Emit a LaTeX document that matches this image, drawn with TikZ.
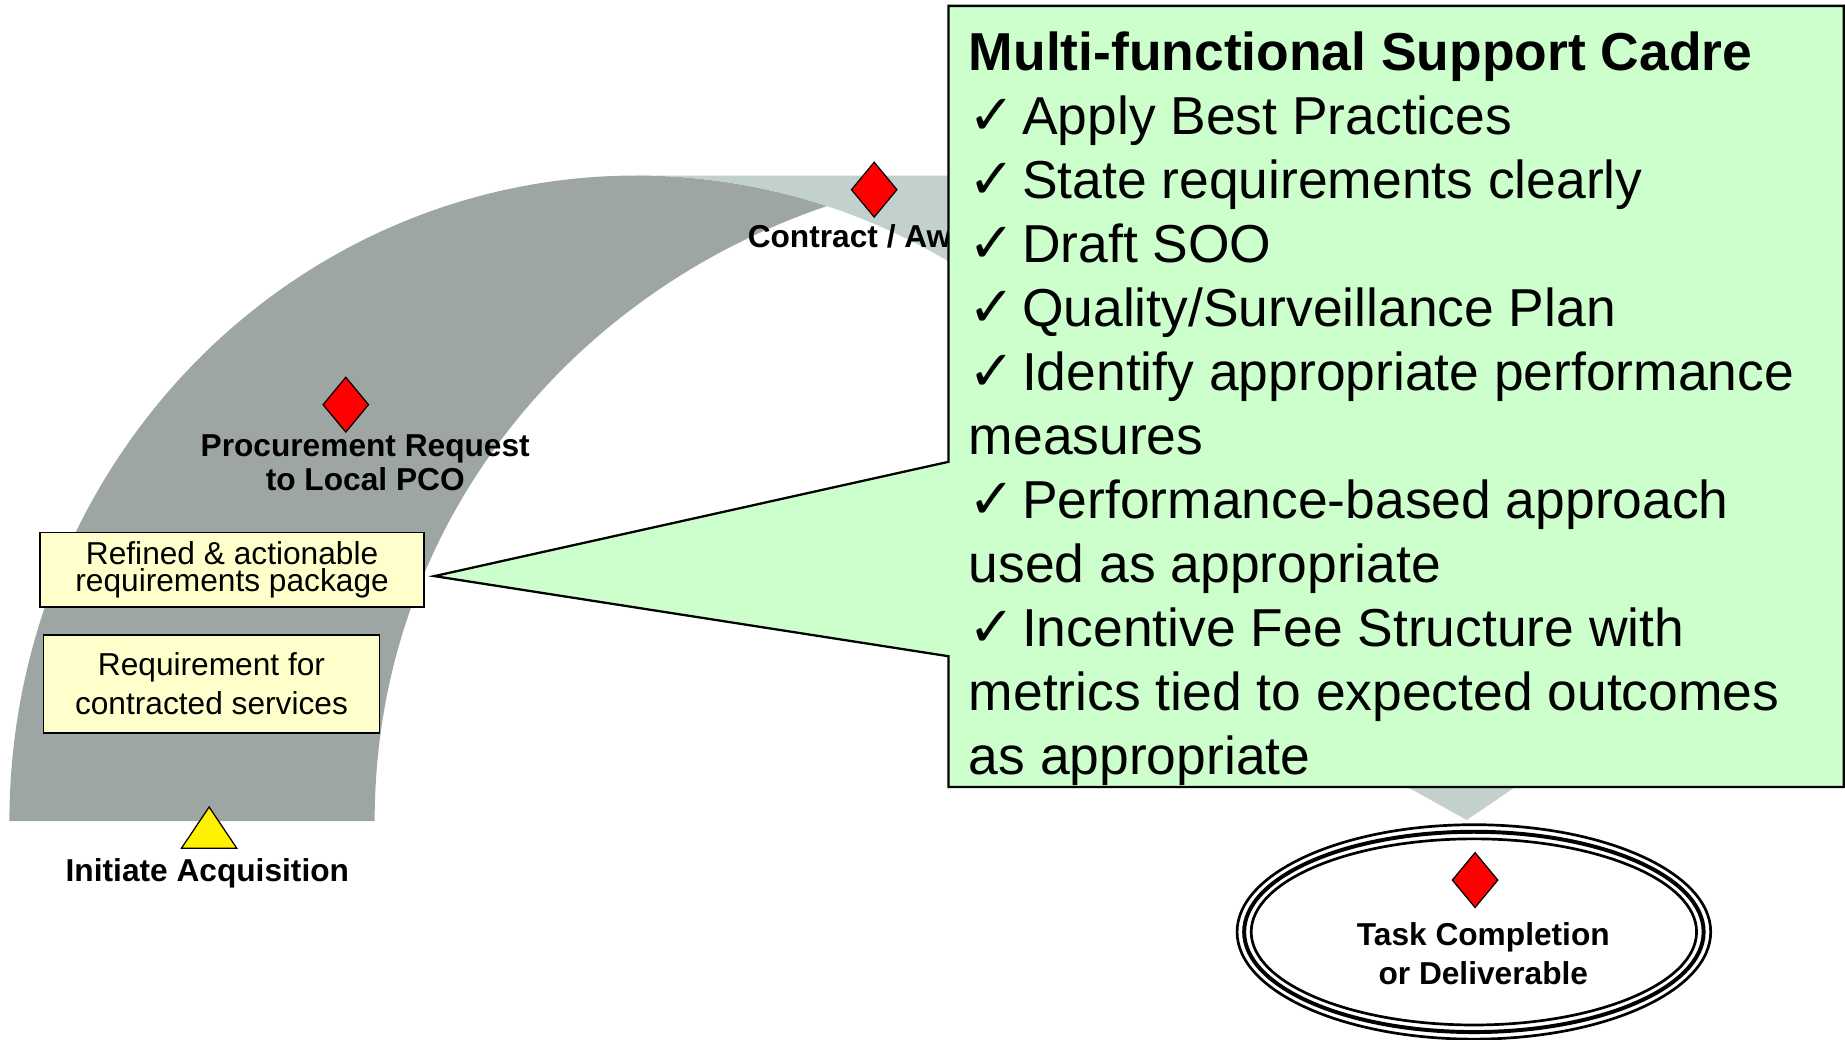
\documentclass[tikz,border=0pt]{standalone}
\usepackage{fontspec}
\setmainfont{Liberation Sans}
\newfontfamily\checkfont{DejaVu Sans}
\usetikzlibrary{shapes.geometric, positioning}
\definecolor{bandgray}{RGB}{158,166,163}
\definecolor{bandlight}{RGB}{194,209,205}
\definecolor{cadregreen}{RGB}{204,255,204}
\definecolor{notecream}{RGB}{255,255,204}
\newcommand{\cadretick}{{\checkfont\fontsize{27}{27}\selectfont ✓}\hspace{0.12em}}
\tikzset{
  milestone/.style={draw, fill=red, diamond, minimum width=0.78cm, minimum height=0.94cm, inner sep=0pt, line width=0.6pt},
  stagelabel/.style={font=\bfseries\fontsize{15.3}{16.4}\selectfont, align=center, inner sep=0pt},
  notebox/.style={draw, fill=notecream, line width=0.8pt, align=center, inner sep=0pt}
}

\begin{document}
\begin{tikzpicture}
      \useasboundingbox (0,0) rectangle (31.32,17.64);
      % light band running on to the deliverable
      \fill[bandlight] (10.8,14.66) -- (26,14.66) -- (25.78,4.32) -- (24.9,3.72) -- (23.82,4.32)
        -- (16.9,12.68) arc[start angle=55, end angle=90, x radius=10.64, y radius=10.96] -- cycle;
      % dark arc
      \fill[bandgray] (0.16,3.70) arc[start angle=180, end angle=72.3, x radius=10.64, y radius=10.96]
        .. controls (9.6,12.64) and (6.36,8.64) .. (6.36,3.70) -- cycle;
      % milestones on the arc
      \node[milestone] (pr) at (5.87,10.77) {};
      \node[stagelabel] (prtext) at (6.2,9.79) {Procurement Request\\to Local PCO};
      \node[milestone] (award) at (14.84,14.42) {};
      \node[stagelabel] (awardtext) at (14.84,13.62) {Contract / Award};
      % requirement boxes
      \node[notebox, minimum width=6.52cm, minimum height=1.26cm, font=\fontsize{15.3}{13.2}\selectfont] (pkg) at (3.94,7.97) {Refined \& actionable\\requirements package};
      \node[notebox, minimum width=5.7cm, minimum height=1.66cm, font=\fontsize{15.3}{18.8}\selectfont] (req) at (3.59,6.03) {Requirement for\\contracted services};
      % callout with the pointer on the package box
      \coordinate (tip) at ([xshift=0.16cm, yshift=-0.11cm] pkg.east);
      \draw[fill=cadregreen, line width=1.1pt] (16.1,17.54) -- (31.3,17.54) -- (31.3,4.28) -- (16.1,4.28)
        -- (16.1,6.5) -- (tip) -- (16.1,9.8) -- cycle;
      \node[anchor=north west, align=left, inner sep=0pt, font=\fontsize{25.8}{30.9}\selectfont] (cadre) at (16.44,17.1) {%
        \textbf{Multi-functional Support Cadre}\\
        \cadretick Apply Best Practices\\
        \cadretick State requirements clearly\\
        \cadretick Draft SOO\\
        \cadretick Quality/Surveillance Plan\\
        \cadretick Identify appropriate performance\\
        measures\\
        \cadretick Performance-based approach\\
        used as appropriate\\
        \cadretick Incentive Fee Structure with\\
        metrics tied to expected outcomes\\
        as appropriate};
      % start of the acquisition
      \coordinate (start) at (3.55,3.94);
      \draw[fill=yellow, line width=0.6pt] (start) -- (4.02,3.24) -- (3.08,3.24) -- cycle;
      \node[stagelabel] (starttext) at (3.52,2.82) {Initiate Acquisition};
      % deliverable, triple ring
      \node[draw, ellipse, fill=white, line width=1.3pt, minimum width=8.04cm, minimum height=3.64cm] (done) at (25.02,1.82) {};
      \draw[line width=1.9pt] (done.center) ellipse [x radius=3.9, y radius=1.7];
      \draw[line width=1.3pt] (done.center) ellipse [x radius=3.78, y radius=1.58];
      \node[milestone] (task) at (25.04,2.7) {};
      \node[stagelabel, font=\bfseries\fontsize{15.3}{18.7}\selectfont] (tasktext) at (25.18,1.45) {Task Completion\\or Deliverable};
    \end{tikzpicture}
\end{document}
